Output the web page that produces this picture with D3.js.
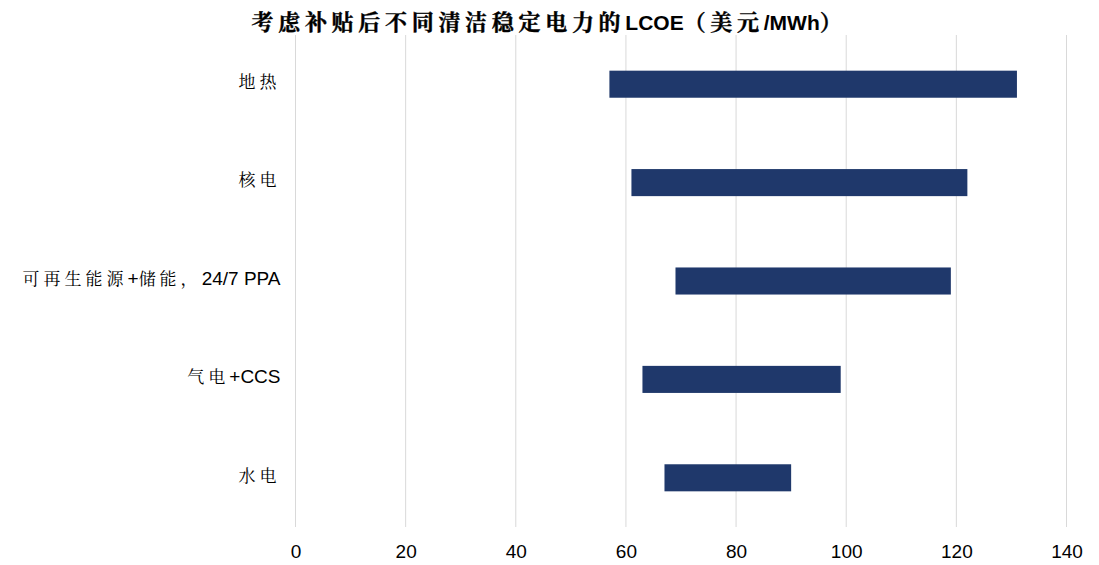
<!DOCTYPE html>
<html>
<head>
<meta charset="utf-8">
<script src="https://cdn.jsdelivr.net/npm/d3@7"></script>
<style>
  html, body { margin: 0; padding: 0; background: #fff; }
  svg { display: block; }
</style>
</head>
<body>
<svg id="chart" width="1099" height="565"></svg>
<script>
// LCOE ranges (USD/MWh) after subsidies, per clean firm power source
const categories = ["地热", "核电", "可再生能源+储能，24/7 PPA", "气电+CCS", "水电"];
const lowValues  = [57, 61, 69, 63, 67];
const highValues = [131, 122, 119, 99, 90];
const xTicks = [0, 20, 40, 60, 80, 100, 120, 140];
const titleText = "考虑补贴后不同清洁稳定电力的LCOE（美元/MWh）";

const rows = categories.map((c, i) => ({ name: c, lo: lowValues[i], hi: highValues[i] }));

const svg = d3.select("#chart");
const margin = { left: 295.5, right: 33, top: 35, bottom: 38 };
const W = 1099, H = 565;

const x = d3.scaleLinear().domain([0, 140]).range([margin.left, margin.left + 771]);
const y = d3.scaleBand().domain(categories).range([margin.top, H - margin.bottom]).paddingInner(0.725).paddingOuter(0.3625);

const latin = "'Liberation Sans', Arial, sans-serif";
const cjk = "'Noto Serif CJK SC', 'Noto Serif SC', 'Noto Sans CJK SC', serif";

// split text into CJK and Latin runs so each gets its own font
const cjkRe = /[\u3000-\u9fff\uff00-\uffef]+|[^\u3000-\u9fff\uff00-\uffef]+/g;
const isCjk = s => /[\u3000-\u9fff\uff00-\uffef]/.test(s);

function fillRuns(textSel, str, opt) {
  textSel.text(null);
  (str.match(cjkRe) || []).forEach(run => {
    const t = textSel.append("tspan").text(run);
    if (isCjk(run)) {
      t.attr("font-family", cjk)
       .attr("font-size", opt.cjkSize)
       .attr("letter-spacing", opt.cjkSpacing)
       .attr("font-weight", opt.cjkWeight || "normal");
      if (opt.cjkStroke) t.attr("stroke", "#000").attr("stroke-width", opt.cjkStroke);
    } else {
      t.attr("font-family", latin)
       .attr("font-size", opt.latinSize)
       .attr("font-weight", opt.latinWeight || "normal");
    }
  });
}

// vertical gridlines
svg.append("g")
  .selectAll("line")
  .data(xTicks)
  .join("line")
  .attr("x1", d => x(d)).attr("x2", d => x(d))
  .attr("y1", margin.top).attr("y2", H - margin.bottom)
  .attr("stroke", "#d9d9d9")
  .attr("stroke-width", 1);

// x axis labels
const xAxis = d3.axisBottom(x).tickValues(xTicks).tickSize(0).tickPadding(0);
const gx = svg.append("g")
  .attr("transform", `translate(0, ${H - 7})`)
  .call(xAxis);
gx.select(".domain").remove();
gx.selectAll("text")
  .attr("dy", 0)
  .attr("y", 0)
  .attr("font-family", latin)
  .attr("font-size", 19)
  .attr("fill", "#000");

// floating range bars
svg.append("g")
  .selectAll("rect")
  .data(rows)
  .join("rect")
  .attr("x", d => x(d.lo))
  .attr("width", d => x(d.hi) - x(d.lo))
  .attr("y", d => y(d.name))
  .attr("height", y.bandwidth())
  .attr("fill", "#1f386b");

// category labels
const yAxis = d3.axisLeft(y).tickSize(0).tickPadding(15);
const gy = svg.append("g")
  .attr("transform", `translate(${margin.left}, 0)`)
  .call(yAxis);
gy.select(".domain").remove();
gy.selectAll(".tick text")
  .attr("fill", "#000")
  .attr("dy", "0.38em")
  .each(function (d) {
    fillRuns(d3.select(this), d, { cjkSize: 17, cjkSpacing: 4, latinSize: 19 });
  });

// title
const title = svg.append("text")
  .attr("x", 549)
  .attr("y", 30)
  .attr("text-anchor", "middle")
  .attr("fill", "#000");
fillRuns(title, titleText, {
  cjkSize: 22, cjkSpacing: 4.7, cjkWeight: "bold", cjkStroke: 0.4,
  latinSize: 21, latinWeight: "bold"
});
</script>
</body>
</html>
